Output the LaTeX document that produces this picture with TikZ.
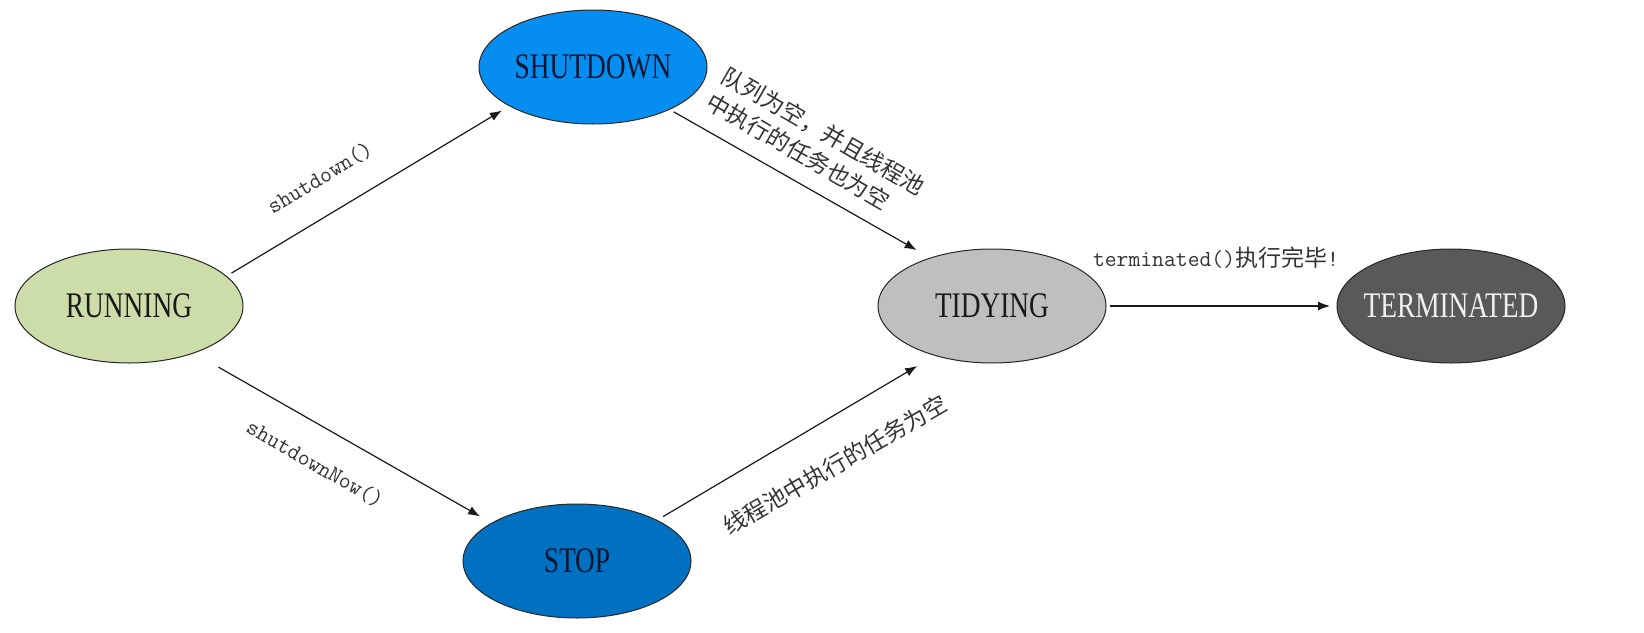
\documentclass[tikz,border=0pt]{standalone}
\usepackage{fontspec}
\usetikzlibrary{shapes.geometric,arrows.meta}
\newfontfamily\nodefont[FakeStretch=0.76]{Liberation Serif}
\newfontfamily\cjk{Noto Sans CJK SC}
\definecolor{cRun}{RGB}{204,221,170}
\definecolor{cShut}{RGB}{5,142,240}
\definecolor{cStop}{RGB}{0,112,192}
\definecolor{cTidy}{RGB}{191,191,191}
\definecolor{cTerm}{RGB}{89,89,89}
\definecolor{cDark}{RGB}{10,22,50}
\newcommand{\nolen}[1]{\makebox[0pt]{#1}}
\begin{document}
\begin{tikzpicture}[x=0.5pt,y=-0.5pt,
  stnode/.style={ellipse,draw=black!85,line width=0.5pt,minimum width=114pt,minimum height=57pt,inner sep=0pt,outer sep=0pt,font=\nodefont\fontsize{18}{20}\selectfont},
  conn/.style={draw=black!90,line width=0.6pt,-{Latex[length=6pt,width=4.5pt]}},
  lbl/.style={inner sep=0pt,font=\ttfamily\fontsize{11.5}{14}\selectfont,text=black!80},
  clbl/.style={inner sep=0pt,font=\cjk\fontsize{11.5}{15}\selectfont,text=black!80}]
\useasboundingbox (0,0) rectangle (1644,632);
\node[stnode,fill=cRun,text=black!90] (run) at (129,306) {\nolen{RUNNING}};
\node[stnode,fill=cShut,text=cDark] (shut) at (593,67) {\nolen{SHUTDOWN}};
\node[stnode,fill=cStop,text=cDark] (stop) at (577,561) {\nolen{STOP}};
\node[stnode,fill=cTidy,text=black!90] (tidy) at (992,306) {\nolen{TIDYING}};
\node[stnode,fill=cTerm,text=white!94!black] (term) at (1451,306) {\nolen{TERMINATED}};

\draw[conn,shorten <=3pt,shorten >=4.5pt] (run.17) -- (shut.205);
\draw[conn,shorten <=14.3pt,shorten >=6.75pt] (run.-36) -- (stop.156);
\draw[conn,shorten <=2.5pt,shorten >=8pt] (shut.-29) -- (tidy.142);
\draw[conn,shorten <=3.6pt,shorten >=10.4pt] (stop.27) -- (tidy.221);
\draw[conn,shorten <=2pt,shorten >=3.5pt] (tidy.east) -- (term.west);

\node[lbl,rotate=31] (l1) at (320,178) {shutdown()};
\node[lbl,rotate=-30] (l2) at (315,464) {shutdownNow()};
\node[clbl,rotate=-30,align=left] (l3) at (816,144) {队列为空，并且线程池\\中执行的任务也为空};
\node[clbl,rotate=30] (l4) at (835,465) {线程池中执行的任务为空};
\node[lbl] (l5) at (1216,258) {terminated(){\cjk 执行完毕}!};
\end{tikzpicture}
\end{document}
